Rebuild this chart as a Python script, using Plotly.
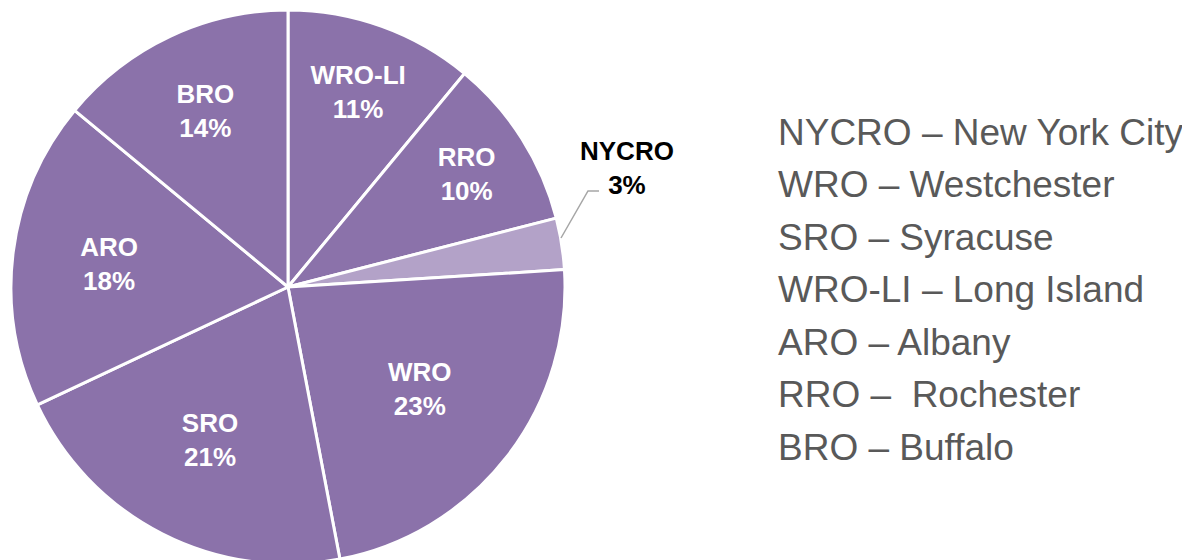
import plotly.graph_objects as go

regions = ["WRO-LI", "RRO", "NYCRO", "WRO", "SRO", "ARO", "BRO"]
shares = [11, 10, 3, 23, 21, 18, 14]
legend_lines = [
    "NYCRO – New York City",
    "WRO – Westchester",
    "SRO – Syracuse",
    "WRO-LI – Long Island",
    "ARO – Albany",
    "RRO –  Rochester",
    "BRO – Buffalo",
]

main_c = "#8B72AA"
light_c = "#B3A2C8"
colors = [light_c if r == "NYCRO" else main_c for r in regions]
templates = ["" if r == "NYCRO" else "<b>%{label}<br>%{value}%</b>" for r in regions]

W, H = 1190, 560
FONT = "Liberation Sans, Arial"


def px(x):
    return x / W


def py(y):
    return (H - y) / H


fig = go.Figure(go.Pie(
    labels=regions,
    values=shares,
    sort=False,
    direction="clockwise",
    rotation=0,
    marker=dict(colors=colors, line=dict(color="white", width=3)),
    texttemplate=templates,
    textposition="inside",
    insidetextorientation="horizontal",
    textfont=dict(family=FONT, size=26, color="#FFFFFF"),
    domain=dict(x=[px(3), px(557)], y=[py(556), py(2)]),
    showlegend=False,
    hoverinfo="skip",
))

# outside label for the small slice, with a leader line
i_small = regions.index("NYCRO")
fig.add_annotation(
    x=px(619), y=py(160), xref="paper", yref="paper",
    xanchor="center", yanchor="middle", showarrow=False,
    text=f"<b>{regions[i_small]}<br>{shares[i_small]}%</b>",
    font=dict(family=FONT, size=26, color="#000000"),
)
fig.add_shape(
    type="path", xref="paper", yref="paper",
    path=f"M {px(553)} {py(230)} L {px(580)} {py(183)} L {px(591)} {py(183)}",
    line=dict(color="#A6A6A6", width=1.5),
)

for i, line in enumerate(legend_lines):
    fig.add_annotation(
        x=px(769), y=py(124 + i * 52.5), xref="paper", yref="paper",
        xanchor="left", yanchor="middle", showarrow=False, borderpad=0,
        text=line, font=dict(family=FONT, size=37, color="#595959"),
    )

fig.update_layout(
    width=W, height=H,
    margin=dict(l=0, r=0, t=0, b=0),
    paper_bgcolor="white", plot_bgcolor="white",
    uniformtext=dict(minsize=26, mode="show"),
)
fig.write_html("out.html")
